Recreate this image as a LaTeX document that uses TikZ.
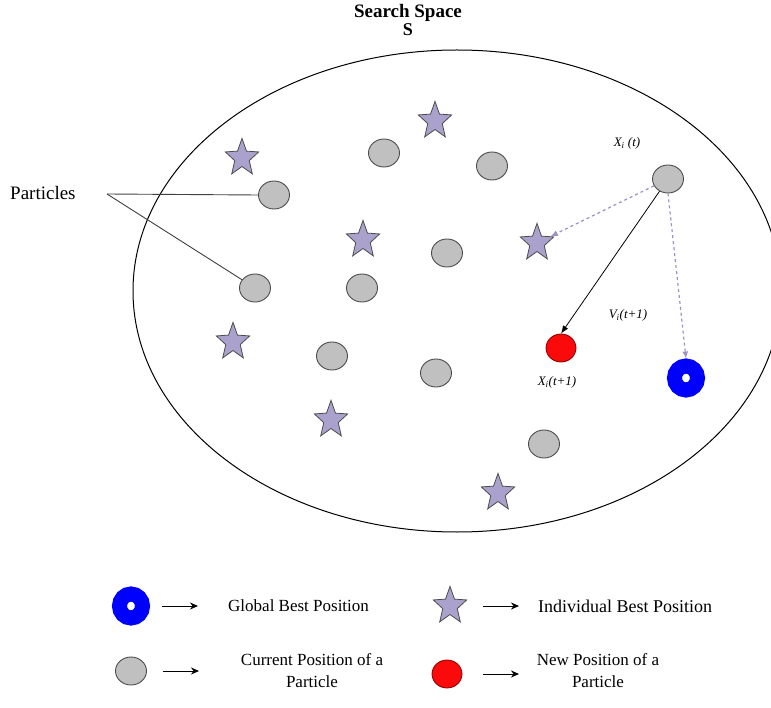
\documentclass[tikz,border=0pt]{standalone}
\usepackage{fontspec}
\setmainfont{Liberation Serif}
\usetikzlibrary{arrows.meta,shapes.geometric}

\definecolor{pgray}{RGB}{192,192,192}
\definecolor{pstar}{RGB}{170,162,204}
\definecolor{pdash}{RGB}{158,144,200}
\definecolor{pred}{RGB}{250,10,10}

\begin{document}
\begin{tikzpicture}[x=1pt,y=-1pt,
	particle/.style={ellipse,draw=black!70,fill=pgray,line width=0.9pt,minimum width=31pt,minimum height=28pt,inner sep=0pt},
	pbest/.style={star,star points=5,star point ratio=2.3,draw=black!70,fill=pstar,line width=0.8pt,minimum size=35pt,inner sep=0pt,yscale=1.12},
	newpos/.style={ellipse,draw=red!55!black,fill=pred,line width=0.8pt,minimum width=30pt,minimum height=28pt,inner sep=0pt},
	gbest/.style={ellipse,draw=blue,fill=white,line width=15pt,minimum width=23pt,minimum height=24pt,inner sep=0pt},
	txt/.style={font=\fontsize{17}{22}\selectfont,inner sep=0pt},
	small/.style={font=\fontsize{13}{15}\selectfont\itshape,inner sep=1pt},
	dasharrow/.style={pdash,dashed,line width=1.2pt,-{Latex[length=7pt,width=6pt]}},
	legarrow/.style={black,line width=1pt,-{Stealth[length=8pt,width=7pt]}}]
			\useasboundingbox (0,0) rectangle (771,708);
			% search space
			\node[font=\fontsize{19}{21}\selectfont\bfseries,inner sep=0pt] (title) at (408,13) {Search Space};
			\node[font=\fontsize{18}{20}\selectfont\bfseries,inner sep=0pt] (sname) at (408,30) {S};
			\draw[line width=1pt] (457,291) ellipse [x radius=324, y radius=241];
			% current particles
			\foreach \nm/\px/\py in {p1/384/153,p2/492/166,p3/274/195,p4/447/253,p5/255/288,
				p6/362/288,p7/332/356,p8/436/373,p9/544/444,p10/668/179}{
				\node[particle] (\nm) at (\px,\py) {};
			}
			% personal bests
			\foreach \nm/\px/\py in {s1/435/121,s2/242/158,s3/363/240,s4/537/243,
				s5/233/342,s6/331/420,s7/498/493}{
				\node[pbest] (\nm) at (\px,\py) {};
			}
			\node[newpos] (xnew) at (561,348) {};
			\node[gbest] (gb) at (686,378) {};
			% labels
			\node[small] (lxt) at (627,143) {X\textsubscript{i} (t)};
			\node[small] (lv) at (628,315) {V\textsubscript{i}(t+1)};
			\node[small] (lxn) at (557,382) {X\textsubscript{i}(t+1)};
			% moves
			\draw[dasharrow] (p10) -- (s4);
			\draw[dasharrow] (p10.south) -- (gb.north);
			\draw[line width=0.8pt,-{Latex[length=8pt,width=6pt]}] (p10) -- (xnew.north);
			% pointers
			\node[txt,font=\fontsize{19}{22}\selectfont,anchor=west] (part) at (10,193) {Particles};
			\coordinate (pj) at (107,194);
			\draw[line width=0.9pt,black!75] (pj) -- (p3.west);
			\draw[line width=0.9pt,black!75] (pj) -- (p5);
			% legend
			\node[gbest] (lgb) at (131,606) {};
			\node[pbest] (lpb) at (450,606) {};
			\node[particle] (lcur) at (131,671) {};
			\node[newpos] (lnew) at (447,674) {};
			\node[txt,anchor=west] (tgb) at (228,606) {Global Best Position};
			\node[txt,font=\fontsize{18}{22}\selectfont,anchor=west] (tpb) at (538,606) {Individual Best Position};
			\node[txt,align=center] (tcur) at (312,671) {Current Position of a\\Particle};
			\node[txt,align=center] (tnew) at (598,671) {New Position of a\\Particle};
			\coordinate (a1) at (162,606); \coordinate (b1) at (198,606);
			\coordinate (a2) at (483,606); \coordinate (b2) at (519,606);
			\coordinate (a3) at (163,671); \coordinate (b3) at (199,671);
			\coordinate (a4) at (483,674); \coordinate (b4) at (519,674);
			\draw[legarrow] (a1) -- (b1);
			\draw[legarrow] (a2) -- (b2);
			\draw[legarrow] (a3) -- (b3);
			\draw[legarrow] (a4) -- (b4);
		\end{tikzpicture}
\end{document}
